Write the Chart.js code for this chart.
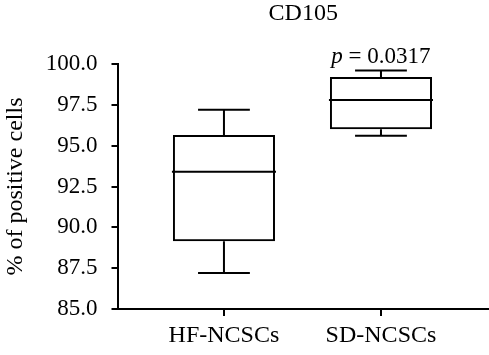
<!DOCTYPE html>
<html>
<head>
<meta charset="utf-8">
<script src="https://cdn.jsdelivr.net/npm/chart.js@4/dist/chart.umd.min.js"></script>
<style>
html,body{margin:0;padding:0;background:#fff;}
canvas{display:block;}
</style>
</head>
<body>
<canvas id="c" width="489" height="355"></canvas>
<script>
// ---- data ----
const categories  = ['HF-NCSCs', 'SD-NCSCs'];
const whiskerMin  = [87.2, 95.6];
const q1          = [89.15, 96.0];
const median      = [93.4, 97.8];
const q3          = [95.65, 99.2];
const whiskerMax  = [97.2, 99.6];
const chartTitle  = 'CD105';
const yTitle      = '% of positive cells';
const pLabel      = '0.0317';

const FONT = "'Liberation Serif', 'DejaVu Serif', serif";
const FS = 23;
const FL = 24;

Chart.defaults.font.family = FONT;
Chart.defaults.font.size = FS;
Chart.defaults.color = '#000';

const boxWidth = 0.65;   // in category units
const capWidth = 0.33;

const boxPlugin = {
  id: 'boxExtras',
  afterDatasetsDraw(chart) {
    const ctx = chart.ctx, xs = chart.scales.x, ys = chart.scales.y;
    ctx.save();
    ctx.strokeStyle = '#000';
    ctx.lineWidth = 2;
    ctx.lineCap = 'butt';
    categories.forEach((c, i) => {
      const xc = xs.getPixelForValue(i + 1);
      const bl = xs.getPixelForValue(i + 1 - boxWidth / 2);
      const br = xs.getPixelForValue(i + 1 + boxWidth / 2);
      const cl = xs.getPixelForValue(i + 1 - capWidth / 2);
      const cr = xs.getPixelForValue(i + 1 + capWidth / 2);
      const yMin = ys.getPixelForValue(whiskerMin[i]);
      const yQ1 = ys.getPixelForValue(q1[i]);
      const yMed = ys.getPixelForValue(median[i]);
      const yQ3 = ys.getPixelForValue(q3[i]);
      const yMax = ys.getPixelForValue(whiskerMax[i]);
      ctx.beginPath();
      ctx.moveTo(xc, yQ3); ctx.lineTo(xc, yMax);
      ctx.moveTo(cl, yMax); ctx.lineTo(cr, yMax);
      ctx.moveTo(xc, yQ1); ctx.lineTo(xc, yMin);
      ctx.moveTo(cl, yMin); ctx.lineTo(cr, yMin);
      ctx.moveTo(bl - 1, yMed); ctx.lineTo(br + 1, yMed);
      ctx.stroke();
    });
    const area = chart.chartArea;
    ctx.fillStyle = '#000';
    ctx.textBaseline = 'alphabetic';
    ctx.textAlign = 'left';
    ctx.font = FL + 'px ' + FONT;
    const tw = ctx.measureText(chartTitle).width;
    ctx.fillText(chartTitle, (area.left + area.right) / 2 - tw / 2, 20);
    const px = xs.getPixelForValue(2);
    const py = ys.getPixelForValue(whiskerMax[1]) - 8;
    ctx.font = 'italic ' + FS + 'px ' + FONT;
    const pw = ctx.measureText('p').width;
    ctx.font = FS + 'px ' + FONT;
    const rest = ' = ' + pLabel;
    const rw = ctx.measureText(rest).width;
    const sx = px - (pw + rw) / 2;
    ctx.font = 'italic ' + FS + 'px ' + FONT;
    ctx.fillText('p', sx, py);
    ctx.font = FS + 'px ' + FONT;
    ctx.fillText(rest, sx + pw, py);
    ctx.restore();
  }
};

new Chart(document.getElementById('c'), {
  type: 'bar',
  data: {
    datasets: [{
      data: categories.map((c, i) => ({ x: i + 1, y: [q1[i], q3[i]] })),
      backgroundColor: 'rgba(255,255,255,0)',
      borderColor: '#000',
      borderWidth: 2,
      borderSkipped: false,
      barPercentage: boxWidth,
      categoryPercentage: 1.0
    }]
  },
  options: {
    responsive: false,
    devicePixelRatio: 1,
    animation: false,
    layout: { padding: { top: 64, right: 0, left: 0, bottom: 0 } },
    plugins: { legend: { display: false }, tooltip: { enabled: false }, title: { display: false } },
    scales: {
      x: {
        type: 'linear',
        offset: false,
        min: 0.322,
        max: 2.688,
        afterBuildTicks(scale) { scale.ticks = categories.map((c, i) => ({ value: i + 1 })); },
        afterFit(scale) { scale.height = 46; },
        ticks: {
          callback: (v) => categories[Math.round(v) - 1] || '',
          padding: 5,
          font: { size: FL },
          color: '#000',
          maxRotation: 0,
          autoSkip: false
        },
        grid: { display: true, offset: false, drawOnChartArea: false, drawTicks: true, tickLength: 7, color: '#000', lineWidth: 2 },
        border: { display: true, color: '#000', width: 2 }
      },
      y: {
        min: 85,
        max: 100,
        afterFit(scale) { scale.width = 117.5; },
        ticks: {
          stepSize: 2.5,
          callback: (v) => Number(v).toFixed(1),
          padding: 14,
          font: { size: FS },
          color: '#000'
        },
        title: { display: true, text: yTitle, font: { size: FL }, color: '#000', padding: { top: 1, bottom: 0 } },
        grid: { display: true, drawOnChartArea: false, drawTicks: true, tickLength: 6, color: '#000', lineWidth: 2 },
        border: { display: true, color: '#000', width: 2 }
      }
    }
  },
  plugins: [boxPlugin]
});
</script>
</body>
</html>
